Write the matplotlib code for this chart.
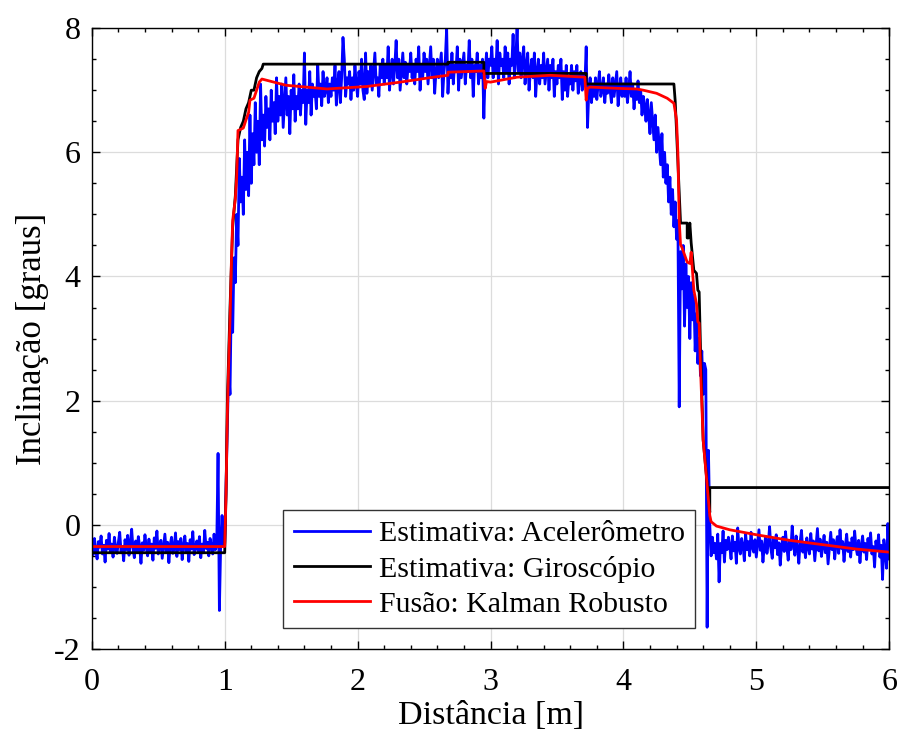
import numpy as np
import matplotlib
matplotlib.use('Agg')
import matplotlib.pyplot as plt
from matplotlib.ticker import MultipleLocator

plt.rcParams['font.family'] = ['Liberation Serif', 'DejaVu Serif']
plt.rcParams['axes.unicode_minus'] = False

# Estimativa do acelerometro, amostrada a cada 0.01 m de 0 a 6 m
acc = [
    -0.30, -0.48, -0.22, -0.41, -0.55, -0.27, -0.36, -0.18, -0.47, -0.33, -0.60, -0.25, -0.39, -0.14, -0.44, -0.31, -0.52, -0.20, -0.37, -0.46,
    -0.28, -0.12, -0.43, -0.35, -0.58, -0.24, -0.40, -0.17, -0.49, -0.30, -0.07, -0.38, -0.53, -0.26, -0.45, -0.19, -0.34, -0.62, -0.29, -0.41,
    -0.16, -0.36, -0.50, -0.23, -0.42, -0.31, -0.57, -0.21, -0.38, -0.10, -0.47, -0.33, -0.25, -0.54, -0.35, -0.15, -0.44, -0.28, -0.61, -0.32,
    -0.20, -0.46, -0.37, -0.13, -0.51, -0.27, -0.40, -0.22, -0.56, -0.34, -0.18, -0.43, -0.30, -0.59, -0.24, -0.39, -0.11, -0.48, -0.35, -0.26,
    -0.42, -0.19, -0.53, -0.31, -0.45, -0.09, -0.38, -0.28, -0.50, -0.22, -0.36, -0.47, -0.15, -0.40, -0.33, 1.15, -1.38, -0.30, 0.15, -0.35,
    -0.30, 0.60, 1.60, 2.50, 2.10, 3.70, 3.10, 4.30, 3.90, 5.00, 4.50, 5.90, 5.20, 5.60, 5.00, 6.20, 5.40, 6.00, 5.30, 6.60,
    5.50, 6.30, 5.80, 6.80, 6.00, 6.50, 5.80, 7.10, 6.20, 6.60, 6.10, 6.90, 6.40, 6.70, 6.20, 7.00, 6.50, 6.80, 6.30, 7.20,
    6.50, 6.90, 6.60, 7.10, 6.40, 6.80, 7.20, 6.60, 6.90, 6.30, 7.00, 6.70, 7.25, 6.50, 6.90, 6.70, 7.10, 6.60, 7.00, 6.80,
    7.60, 6.45, 7.00, 6.80, 7.30, 6.60, 7.10, 6.90, 7.00, 6.70, 7.40, 6.90, 7.10, 6.75, 7.30, 6.90, 7.00, 7.20, 6.80, 7.10,
    6.90, 7.20, 7.00, 7.40, 6.76, 7.10, 7.30, 6.80, 7.20, 7.85, 7.50, 6.90, 7.20, 7.10, 7.30, 6.85, 7.20, 7.00, 7.40, 7.10,
    6.90, 7.30, 7.10, 7.50, 7.00, 6.85, 7.60, 6.95, 7.30, 7.10, 7.40, 7.00, 7.30, 7.60, 7.10, 7.20, 6.90, 7.40, 7.20, 7.50,
    7.10, 7.40, 7.20, 7.70, 7.00, 7.30, 7.50, 7.10, 7.40, 7.80, 7.20, 7.50, 7.00, 7.30, 7.60, 7.20, 7.45, 7.10, 7.40, 7.30,
    7.60, 7.20, 7.40, 7.10, 7.50, 7.30, 7.70, 7.00, 7.40, 7.20, 7.60, 7.30, 7.50, 7.10, 7.40, 7.70, 7.20, 7.50, 6.95, 7.30,
    7.50, 7.20, 7.40, 7.60, 6.90, 7.30, 7.50, 8.00, 6.95, 7.40, 7.20, 7.60, 7.10, 7.40, 7.30, 7.70, 7.00, 7.50, 7.20, 7.40,
    7.60, 7.10, 7.40, 7.30, 7.80, 7.20, 7.50, 6.90, 7.40, 7.30, 7.60, 7.10, 7.40, 7.20, 7.50, 6.55, 7.30, 7.60, 7.20, 7.50,
    7.40, 7.70, 7.20, 7.50, 7.30, 7.80, 7.10, 7.60, 7.40, 7.50, 7.20, 7.70, 7.30, 7.60, 7.10, 7.50, 7.40, 7.90, 7.20, 7.50,
    8.00, 7.30, 7.60, 7.20, 7.50, 7.70, 7.10, 7.40, 7.60, 7.00, 7.30, 7.50, 7.20, 7.60, 6.90, 7.30, 7.50, 7.10, 7.40, 7.20,
    7.60, 7.10, 7.30, 7.50, 7.00, 7.40, 7.20, 7.50, 6.90, 7.30, 7.10, 7.40, 7.20, 7.50, 6.85, 7.30, 7.00, 7.40, 6.90, 7.20,
    7.10, 7.40, 7.00, 7.30, 7.15, 7.40, 6.95, 7.20, 7.30, 7.00, 7.25, 7.10, 7.70, 6.40, 7.00, 7.20, 6.80, 7.10, 6.90, 7.20,
    6.85, 7.10, 7.30, 6.90, 7.00, 7.20, 6.80, 7.10, 6.95, 7.25, 7.00, 6.80, 7.20, 6.90, 7.10, 7.30, 6.75, 7.00, 7.20, 6.90,
    7.10, 6.90, 7.20, 6.80, 7.00, 7.30, 6.90, 7.10, 6.70, 7.00, 6.85, 7.15, 6.80, 7.00, 6.60, 6.90, 6.75, 6.50, 6.85, 6.60,
    6.30, 6.80, 6.50, 6.20, 6.60, 6.00, 6.40, 6.10, 5.80, 6.30, 5.60, 6.00, 5.50, 5.80, 5.20, 5.60, 5.00, 5.40, 4.80, 5.20,
    4.60, 4.90, 1.90, 4.40, 3.80, 4.50, 3.20, 4.20, 3.50, 4.00, 3.00, 3.90, 3.30, 3.70, 2.80, 3.40, 2.60, 3.00, 2.40, 2.80,
    2.10, 2.60, 2.50, -1.65, 1.20, 0.00, -0.50, -0.20, -0.45, -0.30, -0.55, -0.15, -0.92, -0.30, -0.45, -0.10, -0.60, -0.25, -0.40, -0.20,
    -0.35, -0.55, -0.18, -0.42, -0.28, -0.62, -0.05, -0.38, -0.47, -0.22, -0.33, -0.58, -0.15, -0.40, -0.27, -0.50, -0.12, -0.36, -0.44, -0.24,
    -0.52, -0.30, -0.08, -0.41, -0.26, -0.60, -0.35, -0.19, -0.46, -0.31, -0.03, -0.39, -0.54, -0.22, -0.37, -0.16, -0.48, -0.29, -0.65, -0.34,
    -0.20, -0.43, -0.11, -0.36, -0.57, -0.25, -0.40, -0.02, -0.33, -0.49, -0.18, -0.38, -0.62, -0.27, -0.09, -0.44, -0.30, -0.53, -0.21, -0.36,
    -0.47, -0.14, -0.39, -0.26, -0.58, -0.32, -0.06, -0.42, -0.23, -0.51, -0.35, -0.17, -0.45, -0.28, -0.63, -0.37, -0.12, -0.40, -0.24, -0.55,
    -0.31, -0.19, -0.46, -0.08, -0.38, -0.27, -0.59, -0.34, -0.15, -0.43, -0.29, -0.52, -0.21, -0.40, -0.10, -0.36, -0.48, -0.25, -0.61, -0.33,
    -0.18, -0.44, -0.30, -0.56, -0.22, -0.39, -0.13, -0.47, -0.35, -0.68, -0.26, -0.41, -0.16, -0.52, -0.33, -0.88, -0.24, -0.45, -0.70, 0.02,
    -0.55,
]
acc_x = np.linspace(0, 6, len(acc))

# Estimativa do giroscopio (pontos de quebra)
gyro_x = [0.00, 1.00, 1.01, 1.02, 1.04, 1.06, 1.08, 1.10, 1.12, 1.14, 1.16, 1.18, 1.20, 1.22,
          1.24, 1.26, 1.28, 1.29, 2.68, 2.68, 2.95, 2.95, 3.72, 3.72, 4.38, 4.39, 4.43, 4.48,
          4.48, 4.49, 4.50, 4.51, 4.53, 4.55, 4.56, 4.57, 4.58, 4.60, 4.65, 4.65, 6.00]
gyro_y = [-0.45, -0.45, 0.50, 2.00, 3.50, 4.80, 5.30, 6.20, 6.40, 6.50, 6.70, 6.80, 7.00, 7.00,
          7.20, 7.30, 7.35, 7.42, 7.42, 7.45, 7.45, 7.27, 7.27, 7.10, 7.10, 6.82, 4.86, 4.86,
          4.62, 4.62, 4.86, 4.54, 4.10, 4.05, 3.78, 3.75, 2.86, 1.37, 0.20, 0.60, 0.60]

# Fusao: Kalman robusto
kal_x = [0.00, 1.00, 1.01, 1.02, 1.03, 1.04, 1.05, 1.06, 1.08, 1.09, 1.10, 1.14, 1.16, 1.18,
         1.19, 1.22, 1.24, 1.26, 1.28, 1.46, 1.77, 2.07, 2.32, 2.57, 2.68, 2.68, 2.95, 2.96,
         2.97, 3.00, 3.20, 3.45, 3.71, 3.72, 3.73, 3.75, 3.95, 4.10, 4.15, 4.25, 4.33, 4.38,
         4.40, 4.41, 4.42, 4.43, 4.44, 4.48, 4.50, 4.51, 4.53, 4.55, 4.56, 4.57, 4.58, 4.60,
         4.65, 4.66, 4.70, 4.80, 5.00, 5.25, 5.50, 5.75, 6.00]
kal_y = [-0.35, -0.35, 0.50, 1.80, 2.60, 3.30, 4.20, 4.90, 5.25, 5.60, 6.35, 6.39, 6.52, 6.64,
         6.84, 6.87, 7.00, 7.13, 7.18, 7.08, 7.02, 7.06, 7.13, 7.21, 7.24, 7.29, 7.31, 7.03,
         7.14, 7.13, 7.21, 7.24, 7.21, 6.84, 7.03, 7.05, 7.03, 7.02, 7.00, 6.95, 6.87, 6.79,
         6.52, 5.99, 4.90, 4.51, 4.47, 4.23, 4.21, 4.39, 3.78, 3.56, 3.27, 3.25, 2.54, 1.37,
         0.15, 0.05, -0.02, -0.08, -0.16, -0.25, -0.32, -0.39, -0.44]

fig = plt.figure(figsize=(9, 7.4), dpi=100)
ax = fig.add_axes([0.102, 0.123, 0.886, 0.839])

ax.plot(acc_x, acc, color=(0, 0, 1), lw=2.0, label='Estimativa: Acelerômetro')
ax.plot(gyro_x, gyro_y, color='black', lw=2.0, label='Estimativa: Giroscópio')
ax.plot(kal_x, kal_y, color=(1, 0, 0), lw=2.0, label='Fusão: Kalman Robusto')

ax.set_xlim(0, 6)
ax.set_ylim(-2, 8)
ax.xaxis.set_major_locator(MultipleLocator(1))
ax.xaxis.set_minor_locator(MultipleLocator(0.2))
ax.yaxis.set_major_locator(MultipleLocator(2))
ax.yaxis.set_minor_locator(MultipleLocator(0.5))
ax.grid(True, which='major', color='#dcdcdc', lw=0.9)
ax.set_axisbelow(True)
ax.tick_params(which='both', direction='in', top=True, right=True, labelsize=23, width=1)
ax.tick_params(axis='x', which='major', pad=14)
ax.tick_params(axis='y', which='major', pad=8)
ax.tick_params(which='major', length=6)
ax.tick_params(which='minor', length=3)
for s in ax.spines.values():
    s.set_linewidth(1.0)

ax.set_xlabel('Distância [m]', fontsize=24.5, labelpad=2)
ax.set_ylabel('Inclinação [graus]', fontsize=25, labelpad=4)

leg = ax.legend(loc='upper left', bbox_to_anchor=(0.24, 0.224), fontsize=21.5, frameon=True,
                fancybox=False, edgecolor='#333333', framealpha=1, handlelength=2.55,
                handletextpad=0.3, borderpad=0.35, labelspacing=0.28, borderaxespad=0)
leg.get_frame().set_linewidth(1.0)

plt.savefig('out.png', dpi=100)
